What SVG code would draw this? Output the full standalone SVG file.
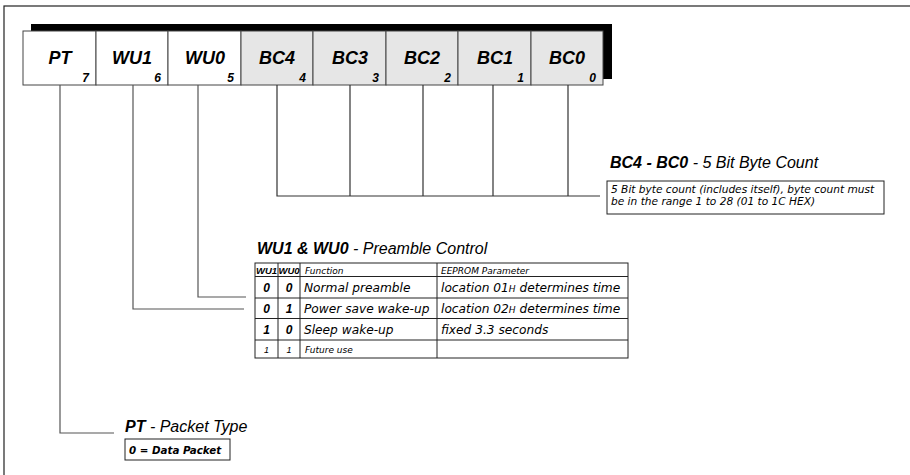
<svg xmlns="http://www.w3.org/2000/svg" width="910" height="475" viewBox="0 0 910 475">
<style>
.lbl{font-family:"Liberation Sans",Arial,sans-serif;font-style:italic;font-weight:bold;font-size:18px;text-anchor:middle;fill:#000}
.num{font-family:"Liberation Sans",Arial,sans-serif;font-style:italic;font-weight:bold;font-size:12px;text-anchor:end;fill:#000}
.ttl{font-family:"Liberation Sans",Arial,sans-serif;font-style:italic;font-size:16px;fill:#000}
.b{font-weight:bold}
.sm{font-family:"DejaVu Sans",sans-serif;font-style:italic;font-size:10.6px;fill:#000}
.tb{font-family:"DejaVu Sans",sans-serif;font-style:italic;font-size:12.2px;fill:#000}
.th{font-family:"DejaVu Sans",sans-serif;font-style:italic;font-size:9px;fill:#000}
.hd{font-family:"Liberation Sans",Arial,sans-serif;font-style:italic;font-weight:bold;font-size:9.5px;text-anchor:middle;fill:#000}
.dg{font-family:"Liberation Sans",Arial,sans-serif;font-style:italic;font-weight:bold;font-size:12px;text-anchor:middle;fill:#000}
.dgs{font-family:"Liberation Sans",Arial,sans-serif;font-style:italic;font-size:9px;text-anchor:middle;fill:#000}
.pk{font-family:"DejaVu Sans",sans-serif;font-style:italic;font-weight:bold;font-size:10.3px;fill:#000}
.cellw{fill:#fff;stroke:#444;stroke-width:1}
.cellg{fill:#e6e6e6;stroke:#444;stroke-width:1}
.conn{fill:none;stroke:#555;stroke-width:1.2}
.connd{fill:none;stroke:#333;stroke-width:1.2}
.box{fill:#fff;stroke:#222;stroke-width:1}
.grid{stroke:#222;stroke-width:1;fill:none}
</style>
<rect x="4" y="6" width="920" height="480" fill="#fff" stroke="#222" stroke-width="1.2"/>
<g id="register">
<rect x="31" y="24" width="581" height="55" fill="#000"/>
<g id="bit7"><rect class="cellw" x="23" y="31" width="73" height="54"/><text class="lbl" x="60" y="64">PT</text><text class="num" x="89" y="82">7</text></g>
<g id="bit6"><rect class="cellw" x="96" y="31" width="72" height="54"/><text class="lbl" x="132" y="64">WU1</text><text class="num" x="161" y="82">6</text></g>
<g id="bit5"><rect class="cellw" x="168" y="31" width="73" height="54"/><text class="lbl" x="205" y="64">WU0</text><text class="num" x="234" y="82">5</text></g>
<g id="bit4"><rect class="cellg" x="241" y="31" width="72" height="54"/><text class="lbl" x="277" y="64">BC4</text><text class="num" x="306" y="82">4</text></g>
<g id="bit3"><rect class="cellg" x="313" y="31" width="73" height="54"/><text class="lbl" x="350" y="64">BC3</text><text class="num" x="379" y="82">3</text></g>
<g id="bit2"><rect class="cellg" x="386" y="31" width="72" height="54"/><text class="lbl" x="422" y="64">BC2</text><text class="num" x="451" y="82">2</text></g>
<g id="bit1"><rect class="cellg" x="458" y="31" width="73" height="54"/><text class="lbl" x="495" y="64">BC1</text><text class="num" x="524" y="82">1</text></g>
<g id="bit0"><rect class="cellg" x="531" y="31" width="72" height="54"/><text class="lbl" x="567" y="64">BC0</text><text class="num" x="596" y="82">0</text></g>
</g>
<g id="connectors">
<path class="conn" d="M60,85 V433 H114"/>
<path class="conn" d="M133,85 V309 H244"/>
<path class="conn" d="M198,85 V297 H246"/>
<path class="connd" d="M277,85 V196 H600 M350,85 V196 M423,85 V196 M493,85 V196 M568,85 V196"/>
</g>
<g id="bc-desc">
<text class="ttl" x="610" y="168"><tspan class="b">BC4 - BC0</tspan> - 5 Bit Byte Count</text>
<rect class="box" x="607" y="181" width="277" height="33"/>
<text class="sm" x="611" y="192.5">5 Bit byte count (includes itself), byte count must</text>
<text class="sm" x="611" y="205">be in the range 1 to 28 (01 to 1C HEX)</text>
</g>
<g id="wu-desc">
<text class="ttl" x="257" y="254"><tspan class="b">WU1 &amp; WU0</tspan> - Preamble Control</text>
<rect class="grid" x="255" y="263" width="373" height="95"/>
<path class="grid" d="M255,276.5 H628 M255,298 H628 M255,318.5 H628 M255,340 H628 M278,263 V358 M300,263 V358 M437,263 V358"/>
<text class="hd" x="266.5" y="273.5">WU1</text>
<text class="hd" x="289" y="273.5">WU0</text>
<text class="th" x="305" y="273.5">Function</text>
<text class="th" x="441" y="273.5">EEPROM Parameter</text>
<text class="dg" x="266.5" y="292">0</text>
<text class="dg" x="289" y="292">0</text>
<text class="tb" x="304" y="292">Normal preamble</text>
<text class="tb" x="441" y="292">location 01<tspan font-size="9">H</tspan> determines time</text>
<text class="dg" x="266.5" y="313">0</text>
<text class="dg" x="289" y="313">1</text>
<text class="tb" x="304" y="313">Power save wake-up</text>
<text class="tb" x="441" y="313">location 02<tspan font-size="9">H</tspan> determines time</text>
<text class="dg" x="266.5" y="334">1</text>
<text class="dg" x="289" y="334">0</text>
<text class="tb" x="304" y="334">Sleep wake-up</text>
<text class="tb" x="441" y="334">fixed 3.3 seconds</text>
<text class="dgs" x="266.5" y="353">1</text>
<text class="dgs" x="289" y="353">1</text>
<text class="th" x="305" y="353">Future use</text>
</g>
<g id="pt-desc">
<text class="ttl" x="125" y="432"><tspan class="b">PT</tspan> - Packet Type</text>
<rect class="box" x="125" y="439" width="105" height="21"/>
<text class="pk" x="129" y="454">0 = Data Packet</text>
</g>
</svg>
